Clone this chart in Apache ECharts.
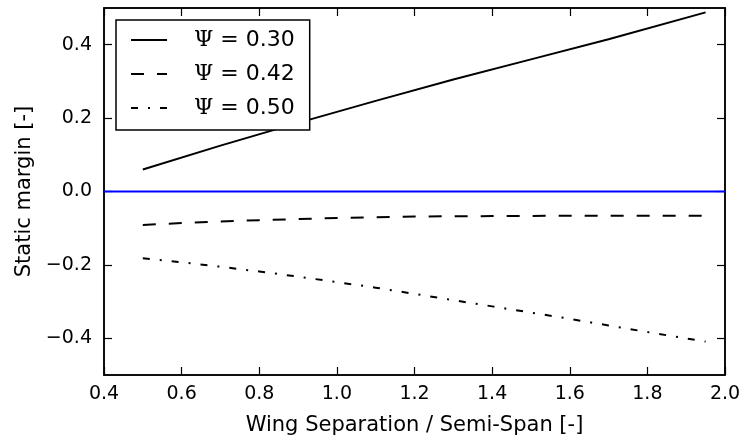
<!DOCTYPE html>
<html>
<head>
<meta charset="utf-8">
<script src="https://cdn.jsdelivr.net/npm/echarts@6/dist/echarts.min.js"></script>
<style>
  html, body { margin: 0; padding: 0; background: #fff; }
  #chart { width: 746px; height: 443px; }
</style>
</head>
<body>
<div id="chart"></div>
<script>
// Static margin versus wing separation for three values of Psi
const sepPsi30 = [0.5, 0.7, 0.9, 1.1, 1.3, 1.5, 1.7, 1.95];
const marginPsi30 = [0.060, 0.125, 0.187, 0.247, 0.305, 0.360, 0.415, 0.488];

const sepPsi42 = [0.5, 0.6, 0.7, 0.8, 0.9, 1.0, 1.1, 1.2, 1.4, 1.6, 1.8, 1.95];
const marginPsi42 = [-0.091, -0.086, -0.082, -0.078, -0.075, -0.072, -0.070, -0.068, -0.067, -0.066, -0.066, -0.066];

const sepPsi50 = [0.5, 0.6, 0.7, 0.8, 0.9, 1.0, 1.1, 1.2, 1.3, 1.4, 1.5, 1.6, 1.7, 1.8, 1.95];
const marginPsi50 = [-0.182, -0.193, -0.205, -0.218, -0.232, -0.247, -0.262, -0.279, -0.296, -0.313, -0.330, -0.347, -0.365, -0.383, -0.409];

const seriesNames = ['Ψ = 0.30', 'Ψ = 0.42', 'Ψ = 0.50'];
const yTickValues = [-0.4, -0.2, 0.0, 0.2, 0.4];
const zeroLine = [[0.4, 0], [2.0, 0]];

const pairs = (xs, ys) => xs.map((x, i) => [x, ys[i]]);
const fmt = v => (v < 0 ? '\u2212' : '') + Math.abs(v).toFixed(1);

const tickFont = { fontFamily: 'DejaVu Sans', fontSize: 19, color: '#000' };
const tickStyle = { inside: true, length: 8, lineStyle: { color: '#000', width: 1.2 } };
const frameLine = { show: true, onZero: false, lineStyle: { color: '#000', width: 1.5 } };

const chart = echarts.init(document.getElementById('chart'), null, { renderer: 'canvas' });

const lineSeries = (name, data, dash) => ({
  name, type: 'line', data, showSymbol: false, symbol: 'none',
  smooth: false, animation: false, xAxisIndex: 0, yAxisIndex: 0,
  itemStyle: { color: '#000' },
  lineStyle: { color: '#000', width: 2, type: dash }
});

chart.setOption({
  animation: false,
  backgroundColor: '#fff',
  grid: { left: 104, right: 21, top: 8, bottom: 68, show: true, borderColor: '#000', borderWidth: 1.5, backgroundColor: 'transparent' },
  xAxis: [
    {
      type: 'value', min: 0.4, max: 2.0, interval: 0.2, position: 'bottom',
      name: 'Wing Separation / Semi-Span [-]', nameLocation: 'middle', nameGap: 40,
      nameTextStyle: { fontFamily: 'DejaVu Sans', fontSize: 21, color: '#000' },
      axisLine: frameLine,
      axisTick: tickStyle, splitLine: { show: false },
      axisLabel: Object.assign({ margin: 10, formatter: v => v.toFixed(1) }, tickFont)
    },
    {
      type: 'value', min: 0.4, max: 2.0, interval: 0.2, position: 'top',
      axisLine: frameLine,
      axisTick: tickStyle, axisLabel: { show: false }, splitLine: { show: false }
    }
  ],
  yAxis: [
    {
      type: 'value', min: -0.5, max: 0.5, position: 'left',
      name: 'Static margin [-]', nameLocation: 'middle', nameGap: 63, nameRotate: 90,
      nameTextStyle: { fontFamily: 'DejaVu Sans', fontSize: 21, color: '#000' },
      axisLine: frameLine,
      axisTick: Object.assign({ customValues: yTickValues }, tickStyle),
      splitLine: { show: false },
      axisLabel: Object.assign({ margin: 12, customValues: yTickValues, formatter: fmt }, tickFont)
    },
    {
      type: 'value', min: -0.5, max: 0.5, position: 'right',
      axisLine: frameLine,
      axisTick: Object.assign({ customValues: yTickValues }, tickStyle),
      axisLabel: { show: false }, splitLine: { show: false }
    }
  ],
  legend: {
    orient: 'vertical', left: 116, top: 20,
    data: seriesNames,
    backgroundColor: '#fff', borderColor: '#000', borderWidth: 1.5, borderRadius: 0,
    padding: [9, 15, 11, 14],
    itemWidth: 36, itemHeight: 22, itemGap: 12,
    itemStyle: { opacity: 0 },
    formatter: name => {
      const parts = name.split(' ');
      return '{g|' + parts[0] + '}{t| ' + parts.slice(1).join(' ') + '}';
    },
    textStyle: {
      color: '#000',
      rich: {
        g: { fontFamily: 'DejaVu Serif', fontSize: 22, color: '#000', padding: [0, 0, 0, 22] },
        t: { fontFamily: 'DejaVu Sans', fontSize: 22, color: '#000' }
      }
    }
  },
  series: [
    lineSeries(seriesNames[0], pairs(sepPsi30, marginPsi30), 'solid'),
    lineSeries(seriesNames[1], pairs(sepPsi42, marginPsi42), [13, 13]),
    lineSeries(seriesNames[2], pairs(sepPsi50, marginPsi50), [7, 10, 2, 10]),
    {
      name: 'zero', type: 'line', data: zeroLine, showSymbol: false, symbol: 'none',
      itemStyle: { color: '#0000ff' },
      lineStyle: { color: '#0000ff', width: 2 }, z: 1, silent: true
    }
  ]
});
</script>
</body>
</html>
